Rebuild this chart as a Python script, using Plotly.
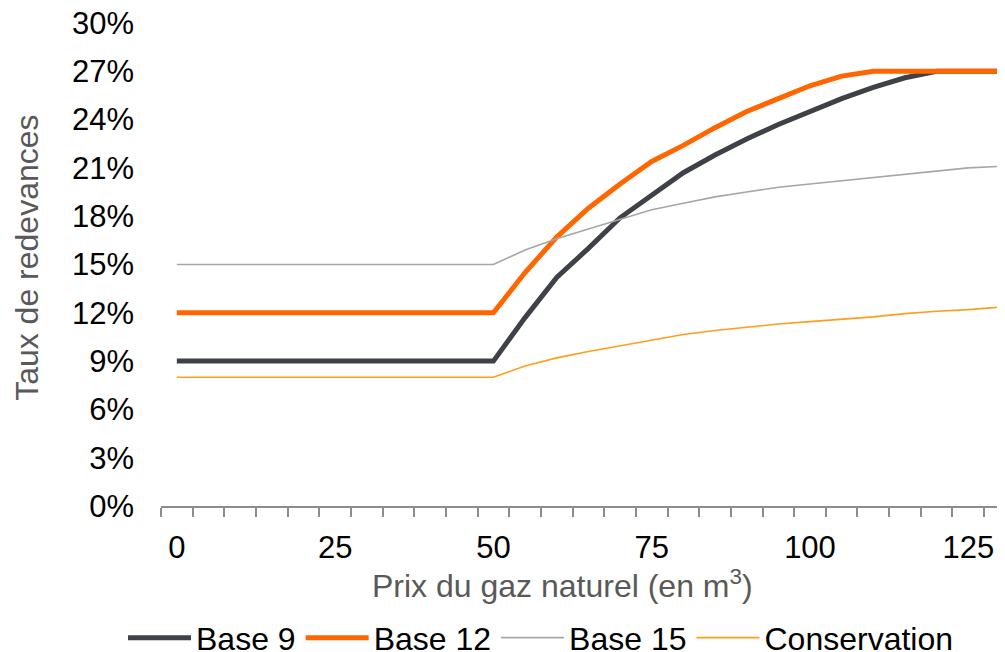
import plotly.graph_objects as go

prix = [0, 5, 10, 15, 20, 25, 30, 35, 40, 45, 50, 55, 60, 65, 70, 75, 80, 85, 90, 95, 100, 105, 110, 115, 120, 125, 130]
base9 = [9, 9, 9, 9, 9, 9, 9, 9, 9, 9, 9, 11.7, 14.2, 16.0, 17.9, 19.3, 20.7, 21.8, 22.8, 23.7, 24.5, 25.3, 26.0, 26.6, 27.0, 27.0, 27.0]
base12 = [12, 12, 12, 12, 12, 12, 12, 12, 12, 12, 12, 14.5, 16.7, 18.5, 20.0, 21.4, 22.4, 23.5, 24.5, 25.3, 26.1, 26.7, 27.0, 27.0, 27.0, 27.0, 27.0]
base15 = [15, 15, 15, 15, 15, 15, 15, 15, 15, 15, 15, 15.9, 16.6, 17.2, 17.8, 18.4, 18.8, 19.2, 19.5, 19.8, 20.0, 20.2, 20.4, 20.6, 20.8, 21.0, 21.1]
conservation = [8, 8, 8, 8, 8, 8, 8, 8, 8, 8, 8, 8.7, 9.2, 9.6, 9.95, 10.3, 10.65, 10.9, 11.1, 11.3, 11.45, 11.6, 11.75, 11.95, 12.1, 12.2, 12.35]

series = [
    ("Base 9", base9, "#3e4147", 5),
    ("Base 12", base12, "#ff6600", 5),
    ("Base 15", base15, "#a6a6a6", 1.6),
    ("Conservation", conservation, "#ff9e1b", 1.6),
]

x_ticks = [0, 25, 50, 75, 100, 125]
y_ticks = [0, 3, 6, 9, 12, 15, 18, 21, 24, 27, 30]
y_labels = [f"{v}%" for v in y_ticks]

FONT = "Liberation Sans, Arial, sans-serif"

fig = go.Figure()
for name, vals, color, w in series:
    fig.add_trace(go.Scatter(x=prix, y=vals, mode="lines", name=name,
                             line=dict(color=color, width=w)))

fig.update_layout(
    width=997, height=644,
    margin=dict(l=153, r=0, t=15, b=146, autoexpand=False),
    plot_bgcolor="white", paper_bgcolor="white",
    font=dict(family=FONT, size=31, color="#000000"),
    showlegend=True,
    legend=dict(orientation="h", x=-0.045, xanchor="left", y=-0.216, yanchor="top",
                font=dict(family=FONT, size=32, color="#000000"),
                itemwidth=63, traceorder="normal"),
    xaxis=dict(range=[-2.5, 130.8], tickmode="array", tickvals=x_ticks,
               ticktext=[str(v) for v in x_ticks], ticks="", showgrid=False,
               zeroline=False, showline=True, linecolor="#8c8c8c", linewidth=1.5,
               automargin=False, ticklabeloverflow="allow",
               ticklabelstandoff=13, tickfont=dict(size=31),
               minor=dict(ticks="outside", tick0=-2.5, dtick=5, ticklen=9,
                          tickcolor="#8c8c8c", tickwidth=1.5, showgrid=False)),
    yaxis=dict(range=[0, 30], tickmode="array", tickvals=y_ticks, ticktext=y_labels,
               ticks="", showgrid=False, zeroline=False, showline=False,
               automargin=False, ticklabeloverflow="allow",
               ticklabelstandoff=26, tickfont=dict(size=31)),
    annotations=[
        dict(text="Prix du gaz naturel (en m<sup>3</sup>)", xref="paper", yref="paper",
             x=0.476, y=-0.162, xanchor="center", yanchor="middle", showarrow=False,
             font=dict(family=FONT, size=32, color="#595959")),
        dict(text="Taux de redevances", xref="paper", yref="paper",
             x=-0.158, y=0.513, xanchor="center", yanchor="middle", textangle=-90,
             showarrow=False, font=dict(family=FONT, size=32, color="#595959")),
    ],
)

fig.write_html("out.html")
